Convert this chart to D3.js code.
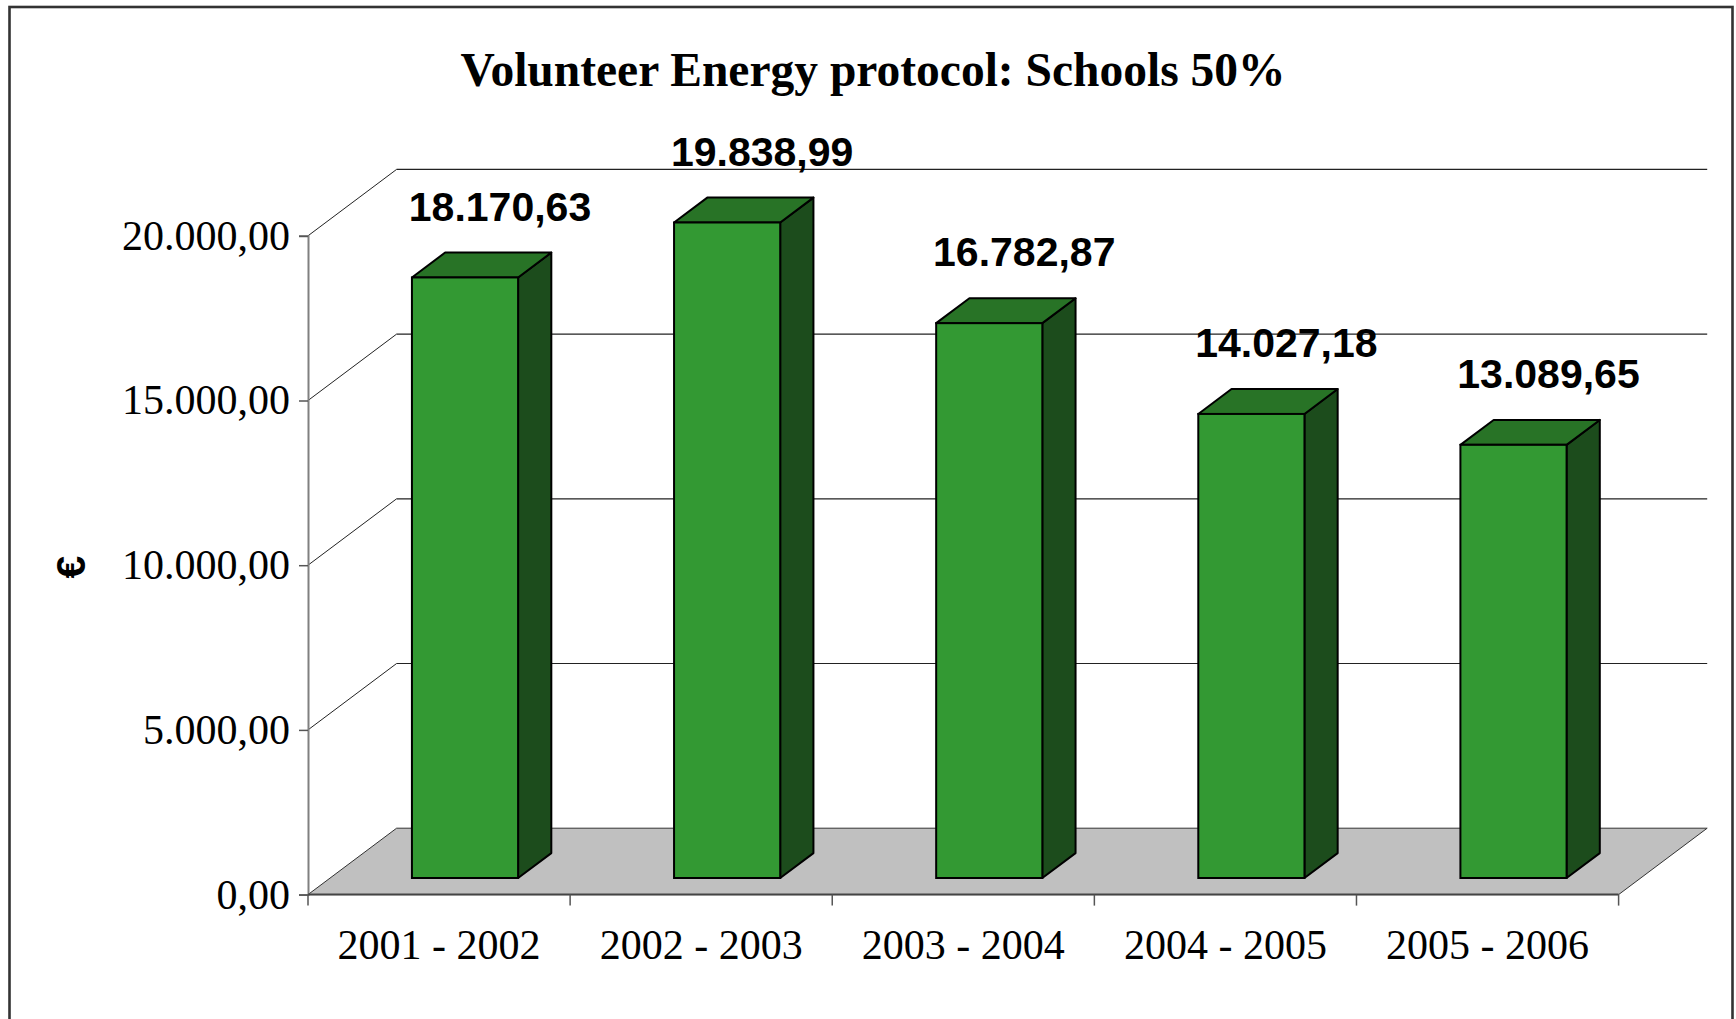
<!DOCTYPE html>
<html>
<head>
<meta charset="utf-8">
<script src="https://cdn.jsdelivr.net/npm/d3@7/dist/d3.min.js"></script>
<style>
  html, body { margin: 0; padding: 0; background: #fff; }
  svg { display: block; }
</style>
</head>
<body>
<svg id="chart" width="1736" height="1019"></svg>
<script>
const categories = ["2001 - 2002", "2002 - 2003", "2003 - 2004", "2004 - 2005", "2005 - 2006"];
const values = [18170.63, 19838.99, 16782.87, 14027.18, 13089.65];
const yTicks = [0, 5000, 10000, 15000, 20000];
const titleText = "Volunteer Energy protocol: Schools 50%";
const yAxisLabel = "€";

const W = 1736, H = 1019;
const svg = d3.select("#chart");

// layout
const x0 = 308, x1 = 1618.6;
const yBottom = 894.6, yTop = 235.8;
const depthX = 88.6, depthY = -66.4;       // wall depth offset
const barD0 = 0.25, barDD = 0.375;          // bar depth position/size as fraction of wall depth

const fmt = d3.formatLocale({decimal: ",", thousands: ".", grouping: [3], currency: ["", "€"]}).format(",.2f");

const x = d3.scaleBand().domain(categories).range([x0, x1]);
const y = d3.scaleLinear().domain([0, 20000]).range([yBottom, yTop]);

// outer border
svg.append("rect")
  .attr("x", 9.5).attr("y", 7).attr("width", 1723).attr("height", 1040)
  .attr("fill", "none").attr("stroke", "#333").attr("stroke-width", 2.6);

// title
svg.append("text")
  .attr("x", 873).attr("y", 86)
  .attr("text-anchor", "middle")
  .attr("font-family", "'Liberation Serif', 'Times New Roman', serif")
  .attr("font-weight", "bold")
  .attr("font-size", 47.5)
  .text(titleText);

// back wall gridlines + diagonals
const grid = svg.append("g");
yTicks.forEach(t => {
  if (t > 0) {
    grid.append("line")
      .attr("x1", x0 + depthX).attr("x2", x1 + depthX)
      .attr("y1", y(t) + depthY).attr("y2", y(t) + depthY)
      .attr("stroke", "#222").attr("stroke-width", 1.2);
    grid.append("line")
      .attr("x1", x0).attr("y1", y(t))
      .attr("x2", x0 + depthX).attr("y2", y(t) + depthY)
      .attr("stroke", "#222").attr("stroke-width", 1);
  }
});

// floor
svg.append("polygon")
  .attr("points", [
    [x0, y(0)], [x1, y(0)], [x1 + depthX, y(0) + depthY], [x0 + depthX, y(0) + depthY]
  ].map(p => p.join(",")).join(" "))
  .attr("fill", "#c0c0c0").attr("stroke", "#333").attr("stroke-width", 1);

// y axis
const yAxis = d3.axisLeft(y).tickValues(yTicks).tickFormat(fmt).tickSize(9).tickPadding(9);
const yg = svg.append("g").attr("transform", `translate(${x0},0)`).call(yAxis);
yg.select(".domain").attr("stroke", "#808080").attr("stroke-width", 2);
yg.selectAll(".tick line").attr("stroke", "#555").attr("stroke-width", 1.5);
yg.selectAll(".tick text")
  .attr("font-family", "'Liberation Serif', 'Times New Roman', serif")
  .attr("font-size", 42).attr("fill", "#000");

// x axis: baseline + boundary ticks + labels
svg.append("line")
  .attr("x1", x0).attr("x2", x1).attr("y1", y(0)).attr("y2", y(0))
  .attr("stroke", "#444").attr("stroke-width", 2);
const bounds = categories.map(c => x(c)).concat([x1]);
svg.append("g").selectAll("line").data(bounds).join("line")
  .attr("x1", d => d).attr("x2", d => d)
  .attr("y1", y(0)).attr("y2", y(0) + 11)
  .attr("stroke", "#555").attr("stroke-width", 1.5);
svg.append("g").selectAll("text").data(categories).join("text")
  .attr("x", d => x(d) + x.bandwidth() / 2)
  .attr("y", 959)
  .attr("text-anchor", "middle")
  .attr("font-family", "'Liberation Serif', 'Times New Roman', serif")
  .attr("font-size", 42)
  .text(d => d);

// y axis label
svg.append("text")
  .attr("transform", "translate(85,567) rotate(-90)")
  .attr("text-anchor", "middle")
  .attr("font-family", "'Liberation Sans', Arial, sans-serif")
  .attr("font-weight", "bold")
  .attr("font-size", 41)
  .text(yAxisLabel);

// bars
const bw = x.bandwidth() * 0.405;
const offX = x.bandwidth() * 0.312;
const fdx = depthX * barD0, fdy = depthY * barD0;
const bdx = depthX * barDD, bdy = depthY * barDD;

const data = categories.map((c, i) => ({c, v: values[i]}));
const bars = svg.append("g").selectAll("g").data(data).join("g");

bars.each(function(d) {
  const g = d3.select(this);
  const L = x(d.c) + offX + fdx;
  const R = L + bw;
  const T = y(d.v) + fdy - 2;
  const B = y(0) + fdy;
  // side
  g.append("polygon")
    .attr("points", [[R, T], [R + bdx, T + bdy], [R + bdx, B + bdy], [R, B]].map(p => p.join(",")).join(" "))
    .attr("fill", "#1c4c1c").attr("stroke", "#000").attr("stroke-width", 2).attr("stroke-linejoin", "round");
  // top
  g.append("polygon")
    .attr("points", [[L, T], [L + bdx, T + bdy], [R + bdx, T + bdy], [R, T]].map(p => p.join(",")).join(" "))
    .attr("fill", "#287326").attr("stroke", "#000").attr("stroke-width", 2).attr("stroke-linejoin", "round");
  // front
  g.append("rect")
    .attr("x", L).attr("y", T).attr("width", bw).attr("height", B - T)
    .attr("fill", "#339933").attr("stroke", "#000").attr("stroke-width", 2);
  // label
  g.append("text")
    .attr("x", L + bw / 2 + 35)
    .attr("y", T + bdy - 32)
    .attr("text-anchor", "middle")
    .attr("font-family", "'Liberation Sans', Arial, sans-serif")
    .attr("font-weight", "bold")
    .attr("font-size", 41)
    .text(fmt(d.v));
});
</script>
</body>
</html>
